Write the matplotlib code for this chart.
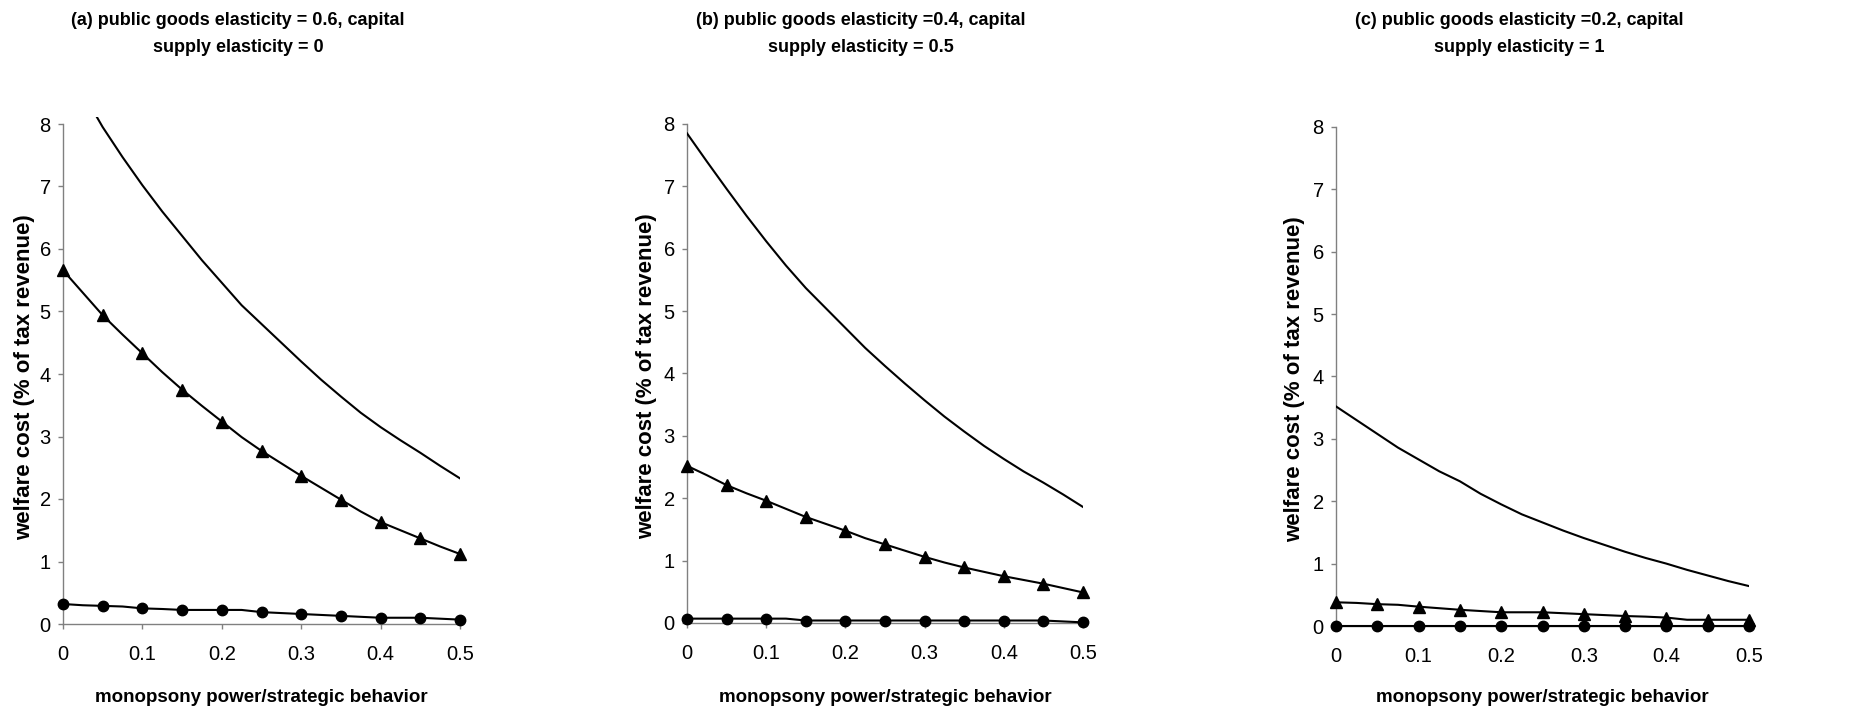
import numpy as np
import matplotlib
matplotlib.use("Agg")
import matplotlib.pyplot as plt

plt.rcParams['font.family'] = ['Liberation Sans', 'DejaVu Sans']

# x values (monopsony power / strategic behavior)
x = [0.0, 0.025, 0.05, 0.075, 0.1, 0.125, 0.15, 0.175, 0.2, 0.225, 0.25,
     0.275, 0.3, 0.325, 0.35, 0.375, 0.4, 0.425, 0.45, 0.475, 0.5]

# Panel (a)
a_plain = [9.0, 8.5, 7.95, 7.47, 7.02, 6.60, 6.21, 5.82, 5.46, 5.10, 4.80,
           4.50, 4.20, 3.91, 3.64, 3.38, 3.15, 2.94, 2.74, 2.53, 2.33]
a_tri = [5.66, 5.30, 4.94, 4.63, 4.33, 4.03, 3.75, 3.49, 3.24, 2.99, 2.77,
         2.57, 2.37, 2.18, 1.99, 1.80, 1.63, 1.50, 1.37, 1.24, 1.12]
a_circ = [0.32, 0.30, 0.29, 0.28, 0.25, 0.24, 0.225, 0.225, 0.225, 0.225, 0.19,
          0.175, 0.16, 0.145, 0.13, 0.115, 0.10, 0.10, 0.10, 0.085, 0.07]

# Panel (b)
b_plain = [7.85, 7.40, 6.96, 6.53, 6.12, 5.73, 5.37, 5.05, 4.73, 4.41, 4.12,
           3.84, 3.57, 3.31, 3.07, 2.84, 2.63, 2.43, 2.25, 2.06, 1.86]
b_tri = [2.52, 2.37, 2.21, 2.08, 1.96, 1.83, 1.70, 1.59, 1.48, 1.36, 1.26,
         1.16, 1.06, 0.97, 0.89, 0.82, 0.75, 0.69, 0.63, 0.56, 0.49]
b_circ = [0.07, 0.07, 0.07, 0.07, 0.07, 0.07, 0.04, 0.04, 0.04, 0.04, 0.04,
          0.04, 0.04, 0.04, 0.04, 0.04, 0.04, 0.04, 0.04, 0.025, 0.01]

# Panel (c)
c_plain = [3.52, 3.30, 3.08, 2.86, 2.67, 2.48, 2.32, 2.12, 1.95, 1.79, 1.66,
           1.53, 1.41, 1.30, 1.19, 1.09, 1.00, 0.90, 0.81, 0.72, 0.64]
c_tri = [0.38, 0.37, 0.35, 0.34, 0.31, 0.285, 0.26, 0.24, 0.22, 0.22, 0.22,
         0.205, 0.19, 0.175, 0.16, 0.15, 0.135, 0.10, 0.10, 0.10, 0.10]
c_circ = [0.0] * 21

titles = ["(a) public goods elasticity = 0.6, capital\nsupply elasticity = 0",
          "(b) public goods elasticity =0.4, capital\nsupply elasticity = 0.5",
          "(c) public goods elasticity =0.2, capital\nsupply elasticity = 1"]
xlabel = "monopsony power/strategic behavior"
ylabel = "welfare cost (% of tax revenue)"
xticks = [0, 0.1, 0.2, 0.3, 0.4, 0.5]
xticklabels = ["0", "0.1", "0.2", "0.3", "0.4", "0.5"]
yticks = [0, 1, 2, 3, 4, 5, 6, 7, 8]

panels = [(a_plain, a_tri, a_circ), (b_plain, b_tri, b_circ), (c_plain, c_tri, c_circ)]

W, H = 1875, 715
fig = plt.figure(figsize=(W / 100, H / 100), dpi=100)

# pixel geometry: (x_left, x_right, y_zero, y_top_of_axes)
geo = [(63, 460, 624, 116.5), (687, 1083, 623, 116.5), (1336, 1749, 626, 119.5)]
title_x = [238, 861, 1519]
ylabel_x = [25, 647, 1295]

spine_col = '#808080'
for i, (plain, tri, circ) in enumerate(panels):
    xl, xr, y0, yt = geo[i]
    ax = fig.add_axes([xl / W, (H - y0) / H, (xr - xl) / W, (y0 - yt) / H])
    ax.plot(x, plain, color='black', lw=1.5, clip_on=True, zorder=3)
    ax.plot(x, tri, color='black', lw=1.5, marker='^', markersize=8.5,
            markevery=2, clip_on=False, zorder=4)
    ax.plot(x, circ, color='black', lw=1.5, marker='o', markersize=7.5,
            markevery=2, clip_on=False, zorder=5)
    ax.set_xlim(0, 0.5)
    ax.set_ylim(0, 8.12)
    ax.spines['top'].set_visible(False)
    ax.spines['right'].set_visible(False)
    for s in ('left', 'bottom'):
        ax.spines[s].set_color(spine_col)
        ax.spines[s].set_linewidth(1.0)
    ax.spines['left'].set_bounds(0, 8)
    ax.set_xticks(xticks)
    ax.set_xticklabels(xticklabels)
    ax.set_yticks(yticks)
    ax.tick_params(axis='both', direction='out', length=3.8, width=1.0,
                   color=spine_col, labelsize=14.5, labelcolor='black')
    ax.tick_params(axis='x', pad=11)
    ax.tick_params(axis='y', pad=5)
    ax.patch.set_alpha(0)

    fig.text(title_x[i] / W, 1 - 34 / H, titles[i], ha='center', va='center',
             fontsize=13, fontweight='bold', linespacing=1.8)
    fig.text((xl + xr) / 2 / W, 1 - 698 / H, xlabel, ha='center', va='center',
             fontsize=13.5, fontweight='bold')
    fig.text(ylabel_x[i] / W, 1 - (y0 - 247) / H, ylabel, ha='center', va='center',
             rotation=90, fontsize=16, fontweight='bold')

fig.savefig("out.png", dpi=100)
